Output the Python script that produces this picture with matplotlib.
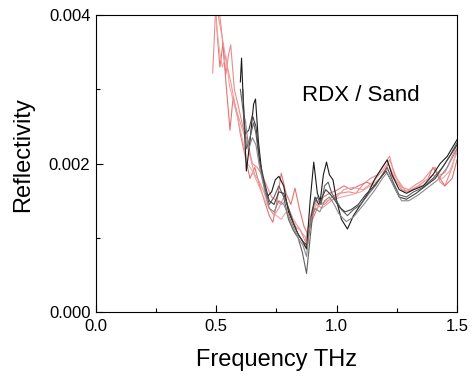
import matplotlib
matplotlib.use("Agg")
import matplotlib.pyplot as plt
from matplotlib.ticker import MultipleLocator, FormatStrFormatter

plt.rcParams['font.family'] = ['Liberation Sans', 'DejaVu Sans']

# Reflectivity curves, values in units of 1e-3
# dark (black / gray) measurements
f_k1 = [0.600, 0.605, 0.615, 0.625, 0.640, 0.655, 0.663, 0.675, 0.690, 0.710, 0.730, 0.745, 0.760,
        0.780, 0.800, 0.820, 0.840, 0.860, 0.875, 0.890, 0.905, 0.920, 0.932, 0.945, 0.958, 0.970,
        0.985, 1.000, 1.020, 1.045, 1.070, 1.100, 1.130, 1.160, 1.190, 1.210, 1.230, 1.260, 1.290,
        1.320, 1.360, 1.400, 1.430, 1.460, 1.500]
r_k1 = [3.10, 3.42, 2.60, 1.90, 2.30, 2.80, 2.87, 2.30, 1.85, 1.55, 1.62, 1.78, 1.83,
        1.70, 1.35, 1.20, 1.05, 0.95, 0.85, 1.50, 2.02, 1.60, 1.50, 1.85, 2.02, 1.85,
        1.78, 1.50, 1.25, 1.12, 1.30, 1.45, 1.60, 1.80, 1.95, 2.05, 1.85, 1.65, 1.60,
        1.65, 1.70, 1.85, 2.00, 2.10, 2.32]

f_k2 = [0.600, 0.612, 0.625, 0.640, 0.655, 0.665, 0.680, 0.700, 0.720, 0.740, 0.760, 0.780, 0.800,
        0.820, 0.840, 0.858, 0.875, 0.890, 0.905, 0.920, 0.935, 0.950, 0.965, 0.980, 1.000, 1.020,
        1.045, 1.070, 1.100, 1.130, 1.160, 1.190, 1.210, 1.235, 1.260, 1.290, 1.320, 1.360, 1.400,
        1.440, 1.470, 1.500]
r_k2 = [3.00, 2.70, 2.20, 2.35, 2.55, 2.40, 2.00, 1.70, 1.45, 1.55, 1.70, 1.55, 1.25,
        1.10, 1.00, 0.80, 0.52, 1.00, 1.45, 1.55, 1.45, 1.70, 1.75, 1.60, 1.50, 1.38,
        1.30, 1.38, 1.45, 1.58, 1.70, 1.85, 1.95, 1.75, 1.58, 1.55, 1.62, 1.68, 1.80,
        1.95, 2.10, 2.28]

f_k3 = [0.610, 0.620, 0.635, 0.650, 0.665, 0.680, 0.700, 0.720, 0.740, 0.760, 0.780, 0.800, 0.820,
        0.840, 0.860, 0.878, 0.895, 0.910, 0.925, 0.940, 0.955, 0.970, 0.990, 1.010, 1.035, 1.060,
        1.090, 1.120, 1.150, 1.180, 1.205, 1.230, 1.260, 1.290, 1.330, 1.370, 1.410, 1.450, 1.500]
r_k3 = [3.00, 2.40, 2.45, 2.65, 2.50, 2.05, 1.75, 1.50, 1.45, 1.62, 1.60, 1.40, 1.20,
        1.05, 0.95, 0.90, 1.30, 1.55, 1.45, 1.55, 1.65, 1.60, 1.52, 1.42, 1.35, 1.38,
        1.45, 1.58, 1.68, 1.80, 1.90, 1.75, 1.55, 1.52, 1.60, 1.70, 1.80, 2.00, 2.25]

f_k4 = [0.620, 0.635, 0.650, 0.665, 0.680, 0.700, 0.720, 0.740, 0.760, 0.780, 0.800, 0.820, 0.840,
        0.860, 0.875, 0.890, 0.910, 0.930, 0.950, 0.970, 0.990, 1.010, 1.040, 1.070, 1.100, 1.130,
        1.160, 1.190, 1.210, 1.240, 1.270, 1.300, 1.340, 1.380, 1.420, 1.460, 1.500]
r_k4 = [2.60, 2.20, 2.35, 2.25, 1.95, 1.65, 1.40, 1.35, 1.50, 1.45, 1.30, 1.15, 1.00,
        0.90, 0.75, 1.20, 1.40, 1.35, 1.50, 1.55, 1.45, 1.32, 1.22, 1.28, 1.40, 1.52,
        1.65, 1.80, 1.88, 1.68, 1.50, 1.50, 1.58, 1.68, 1.78, 1.95, 2.20]

# pink (red) measurements
f_p1 = [0.485, 0.492, 0.500, 0.510, 0.520, 0.530, 0.540, 0.550, 0.560, 0.575, 0.590, 0.610, 0.630,
        0.650, 0.670, 0.690, 0.710, 0.730, 0.750, 0.770, 0.790, 0.810, 0.830, 0.850, 0.870, 0.885,
        0.900, 0.920, 0.950, 0.980, 1.010, 1.050, 1.080, 1.110, 1.140, 1.170, 1.200, 1.220, 1.240,
        1.270, 1.300, 1.330, 1.360, 1.390, 1.410, 1.430, 1.450, 1.480, 1.500]
r_p1 = [3.22, 3.70, 4.30, 4.10, 3.85, 3.50, 3.20, 3.45, 3.60, 3.00, 2.80, 2.50, 2.30,
        2.00, 1.95, 1.85, 1.70, 1.55, 1.50, 1.45, 1.50, 1.30, 1.15, 1.10, 0.95, 1.20,
        1.40, 1.50, 1.45, 1.55, 1.60, 1.62, 1.60, 1.72, 1.80, 1.85, 2.00, 2.10, 1.85,
        1.68, 1.65, 1.72, 1.78, 1.90, 1.95, 1.75, 1.70, 1.95, 2.20]

f_p2 = [0.495, 0.505, 0.515, 0.528, 0.540, 0.557, 0.570, 0.585, 0.600, 0.620, 0.640, 0.660, 0.680,
        0.700, 0.720, 0.735, 0.750, 0.770, 0.790, 0.810, 0.827, 0.845, 0.865, 0.880, 0.900, 0.920,
        0.945, 0.970, 1.000, 1.030, 1.060, 1.090, 1.125, 1.160, 1.190, 1.215, 1.240, 1.270, 1.300,
        1.340, 1.380, 1.400, 1.420, 1.450, 1.480, 1.500]
r_p2 = [4.20, 3.70, 3.30, 3.62, 3.10, 2.45, 2.90, 2.70, 2.40, 2.10, 1.80, 1.95, 1.70,
        1.50, 1.30, 1.21, 1.45, 1.87, 1.60, 1.45, 1.67, 1.40, 1.15, 1.05, 1.25, 1.40,
        1.55, 1.60, 1.64, 1.70, 1.65, 1.70, 1.75, 1.70, 1.85, 2.00, 1.80, 1.65, 1.62,
        1.70, 1.80, 1.95, 1.85, 1.70, 1.80, 2.05]

f_p3 = [0.490, 0.500, 0.512, 0.525, 0.540, 0.555, 0.570, 0.590, 0.610, 0.630, 0.650, 0.670, 0.690,
        0.710, 0.730, 0.750, 0.770, 0.790, 0.810, 0.830, 0.850, 0.868, 0.885, 0.905, 0.930, 0.960,
        0.990, 1.020, 1.060, 1.100, 1.140, 1.180, 1.210, 1.240, 1.280, 1.320, 1.360, 1.400, 1.440,
        1.470, 1.500]
r_p3 = [4.30, 3.90, 3.55, 3.30, 3.45, 3.05, 2.85, 2.60, 2.30, 2.00, 1.90, 1.75, 1.60,
        1.45, 1.35, 1.30, 1.25, 1.35, 1.20, 1.05, 1.00, 0.88, 1.10, 1.35, 1.45, 1.50,
        1.52, 1.55, 1.58, 1.62, 1.70, 1.80, 1.92, 1.78, 1.62, 1.66, 1.75, 1.85, 1.80,
        1.90, 2.15]

f_p4 = [0.500, 0.510, 0.525, 0.540, 0.560, 0.580, 0.600, 0.620, 0.640, 0.660, 0.680, 0.700, 0.720,
        0.740, 0.760, 0.780, 0.800, 0.820, 0.840, 0.860, 0.878, 0.895, 0.915, 0.940, 0.970, 1.000,
        1.030, 1.070, 1.110, 1.150, 1.190, 1.220, 1.250, 1.290, 1.330, 1.370, 1.410, 1.450, 1.500]
r_p4 = [4.30, 3.95, 3.70, 3.40, 3.10, 2.75, 2.55, 2.35, 2.10, 1.85, 1.75, 1.60, 1.40,
        1.30, 1.40, 1.55, 1.40, 1.25, 1.15, 1.05, 0.98, 1.25, 1.45, 1.40, 1.48, 1.55,
        1.65, 1.68, 1.65, 1.75, 1.90, 2.05, 1.80, 1.62, 1.68, 1.72, 1.82, 1.88, 2.25]

dark = [(f_k1, r_k1, '#1a1a1a'), (f_k2, r_k2, '#606060'), (f_k3, r_k3, '#404040'),
        (f_k4, r_k4, '#8a8a8a')]
pink = [(f_p1, r_p1, '#ee8a8a'), (f_p2, r_p2, '#e57373'), (f_p3, r_p3, '#f2a7a7'),
        (f_p4, r_p4, '#eb9a9a')]

fig = plt.figure(figsize=(4.75, 3.77), dpi=100)
ax = fig.add_axes([0.202, 0.172, 0.760, 0.788])

for f, r, c in pink:
    ax.plot(f, [v * 1e-3 for v in r], color=c, lw=0.8)
for f, r, c in dark:
    ax.plot(f, [v * 1e-3 for v in r], color=c, lw=0.8)

ax.set_xlim(0.0, 1.5)
ax.set_ylim(0.0, 0.004)
ax.xaxis.set_major_locator(MultipleLocator(0.5))
ax.xaxis.set_minor_locator(MultipleLocator(0.25))
ax.yaxis.set_major_locator(MultipleLocator(0.002))
ax.yaxis.set_minor_locator(MultipleLocator(0.001))
ax.xaxis.set_major_formatter(FormatStrFormatter('%.1f'))
ax.yaxis.set_major_formatter(FormatStrFormatter('%.3f'))
ax.tick_params(which='both', direction='in', labelsize=12, width=0.8)
ax.tick_params(which='major', length=5)
ax.tick_params(which='minor', length=3)
ax.tick_params(axis='x', pad=5)
ax.tick_params(axis='y', pad=4)

ax.set_xlabel('Frequency THz', fontsize=17, labelpad=11)
ax.set_ylabel('Reflectivity', fontsize=17)
ax.yaxis.set_label_coords(-0.172, 0.53)
ax.text(1.1, 0.00292, 'RDX / Sand', fontsize=16, ha='center', va='center')

fig.savefig('out.png', dpi=100)
